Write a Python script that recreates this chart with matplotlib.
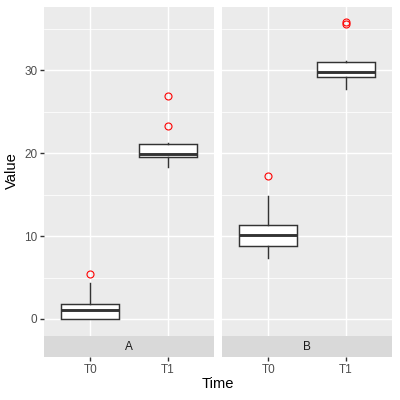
import matplotlib
matplotlib.use("Agg")
import matplotlib.pyplot as plt

plt.rcParams['font.family'] = ['Liberation Sans', 'DejaVu Sans']

facets = ["A", "B"]
times = ["T0", "T1"]
# box statistics per facet, per time point
q1 = [[0.0, 19.55], [8.83, 29.19]]
med = [[1.05, 19.84], [10.16, 29.76]]
q3 = [[1.84, 21.08], [11.28, 30.96]]
whislo = [[0.0, 18.28], [7.35, 27.67]]
whishi = [[4.37, 21.25], [14.8, 31.08]]
fliers = [[[5.39], [26.9, 23.2]], [[17.27], [35.5, 35.75]]]

yticks = [0, 10, 20, 30]
ylim = (-2.05, 37.6)

W = H = 400
fig = plt.figure(figsize=(W / 72, H / 72), dpi=72)

panel_x = [(44, 214), (222, 392)]
p_top, p_bot, s_bot = 7, 336, 357
txt = 11.7

def fbox(x0, x1, y0, y1):
    return [x0 / W, 1 - y1 / H, (x1 - x0) / W, (y1 - y0) / H]

for i, facet in enumerate(facets):
    x0, x1 = panel_x[i]
    ax = fig.add_axes(fbox(x0, x1, p_top, p_bot))
    ax.set_facecolor("#EBEBEB")
    for s in ax.spines.values():
        s.set_visible(False)
    ax.set_xlim(0.4, 2.6)
    ax.set_ylim(*ylim)
    for y in [-5, 5, 15, 25, 35]:
        ax.axhline(y, color="white", lw=0.75, zorder=0)
    for y in yticks:
        ax.axhline(y, color="white", lw=1.45, zorder=0)
    for x in [1, 2]:
        ax.axvline(x, color="white", lw=1.45, zorder=0)

    stats = []
    for j, t in enumerate(times):
        stats.append(dict(q1=q1[i][j], med=med[i][j], q3=q3[i][j],
                          whislo=whislo[i][j], whishi=whishi[i][j],
                          fliers=fliers[i][j], label=t))
    ax.bxp(stats, positions=[1, 2], widths=0.75, patch_artist=True,
           showcaps=False,
           boxprops=dict(facecolor="white", edgecolor="#333333", lw=1.45),
           whiskerprops=dict(color="#333333", lw=1.45),
           medianprops=dict(color="#333333", lw=2.9, solid_capstyle="butt"),
           flierprops=dict(marker="o", markerfacecolor="none",
                           markeredgecolor="red", markersize=7,
                           markeredgewidth=1.1),
           zorder=2)
    ax.set_xticks([])
    if i == 0:
        ax.set_yticks(yticks)
        ax.set_yticklabels([str(v) for v in yticks])
        ax.tick_params(axis="y", length=3.7, width=1.4, color="#333333",
                       labelcolor="#4D4D4D", labelsize=txt, pad=2.9)
    else:
        ax.set_yticks([])

    sax = fig.add_axes(fbox(x0, x1, p_bot, s_bot))
    sax.set_facecolor("#D9D9D9")
    for s in sax.spines.values():
        s.set_visible(False)
    sax.set_xlim(0.4, 2.6)
    sax.set_ylim(0, 1)
    sax.set_yticks([])
    sax.set_xticks([1, 2])
    sax.set_xticklabels(times)
    sax.tick_params(axis="x", length=3.7, width=1.4, color="#333333",
                    labelcolor="#4D4D4D", labelsize=txt, pad=2.9)
    sax.text(1.5, 0.5, facet, ha="center", va="center", fontsize=txt,
             color="#1A1A1A")

fig.text(218 / W, 1 - 384 / H, "Time", ha="center", va="center", fontsize=14.7)
fig.text(12 / W, 1 - 171 / H, "Value", ha="center", va="center",
         fontsize=14.7, rotation=90)

fig.savefig("out.png", dpi=72)
